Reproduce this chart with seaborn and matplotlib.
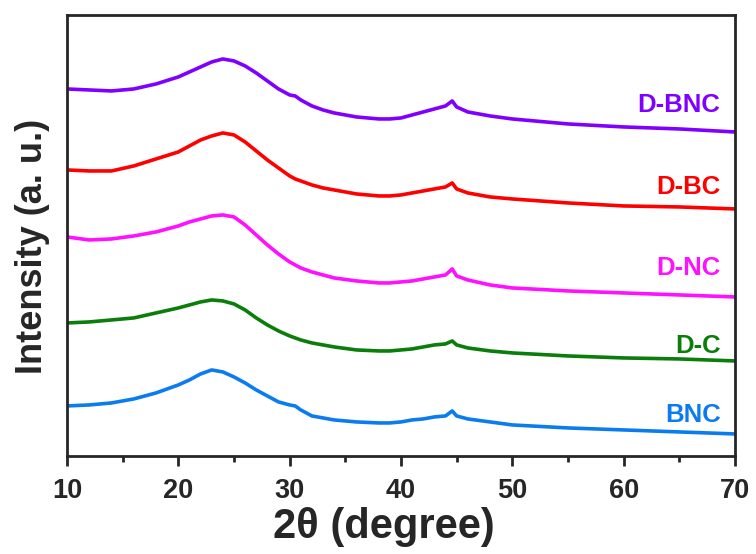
import numpy as np
import pandas as pd
import matplotlib
matplotlib.use("Agg")
import matplotlib.pyplot as plt
import seaborn as sns
from matplotlib.ticker import MultipleLocator

# 2-theta sampling (degree)
two_theta = [10, 12, 14, 16, 18, 20, 21, 22, 23, 24, 25, 26, 27, 28, 29, 30, 30.5,
             31, 32, 33, 34, 36, 38, 39, 40, 41, 42, 43, 44, 44.6, 45, 46, 48, 50,
             55, 60, 65, 70]

# intensities (a. u.)
bnc = [50, 51, 53, 57, 63, 71, 76, 82, 86, 84, 79, 73, 66, 60, 54, 51, 50,
       46, 40, 38, 36, 34, 33, 33, 34, 36, 37, 39, 40, 45, 40, 37, 34, 31,
       28, 26, 24, 22]
d_c = [58, 59, 61, 63, 68, 73, 76, 79, 81, 80, 77, 71, 63, 56, 50, 45, 43,
       41, 38, 36, 34, 31, 30, 30, 31, 32, 34, 36, 37, 40, 36, 33, 30, 28,
       25, 23, 22, 20]
d_nc = [79, 76, 77, 80, 84, 90, 94, 97, 100, 101, 99, 91, 81, 71, 62, 54, 51,
        48, 44, 41, 38, 35, 33, 33, 34, 35, 37, 39, 41, 47, 40, 36, 31, 28,
        25, 23, 21, 19]
d_bc = [61, 60, 60, 65, 72, 79, 85, 91, 95, 98, 96, 89, 80, 71, 63, 55, 52,
        50, 46, 43, 41, 37, 35, 35, 36, 38, 40, 42, 44, 48, 42, 38, 34, 32,
        28, 25, 24, 22]
d_bnc = [64, 63, 62, 64, 69, 76, 81, 86, 91, 94, 92, 87, 80, 72, 64, 58, 57,
         53, 47, 43, 40, 36, 34, 34, 35, 38, 41, 44, 47, 52, 46, 41, 37, 34,
         29, 26, 24, 21]

samples = ["BNC", "D-C", "D-NC", "D-BC", "D-BNC"]
series = [bnc, d_c, d_nc, d_bc, d_bnc]
offsets = [0, 75, 140, 225, 303]
colors = ["#0a7cf0", "#0a7d0a", "#ff10ff", "#ff0000", "#8000ff"]
palette = dict(zip(samples, colors))

frames = []
for name, vals, off in zip(samples, series, offsets):
    frames.append(pd.DataFrame({"two_theta": two_theta,
                                "intensity": np.array(vals) + off,
                                "sample": name}))
df = pd.concat(frames, ignore_index=True)

sns.set_style("ticks")
plt.rcParams["font.family"] = ["Liberation Sans", "DejaVu Sans"]
plt.rcParams["font.weight"] = "bold"

fig = plt.figure(figsize=(7.56, 5.54), dpi=100)
ax = fig.add_axes([0.0886, 0.177, 0.8836, 0.796])

sns.lineplot(data=df, x="two_theta", y="intensity", hue="sample",
             palette=palette, linewidth=2.6, legend=False, ax=ax,
             sort=False, estimator=None)
for ln in ax.lines:
    ln.set_solid_joinstyle("round")
    ln.set_solid_capstyle("round")

ax.set_xlim(10, 70)
ax.set_ylim(0, 441)
ax.xaxis.set_major_locator(MultipleLocator(10))
ax.xaxis.set_minor_locator(MultipleLocator(5))
ax.set_yticks([])
ax.tick_params(axis="x", which="major", direction="out", length=7, width=2,
               labelsize=19.5, pad=9)
ax.tick_params(axis="x", which="minor", direction="out", length=4, width=2)
for lab in ax.get_xticklabels():
    lab.set_fontweight("bold")
for sp in ax.spines.values():
    sp.set_linewidth(2)
    sp.set_visible(True)

ax.set_xlabel("2θ (degree)", fontsize=30, fontweight="bold")
ax.xaxis.set_label_coords(0.475, -0.115, transform=ax.transAxes)
ax.xaxis.label.set_va("top")
ax.set_ylabel("Intensity (a. u.)", fontsize=26, fontweight="bold")
ax.yaxis.set_label_coords(-0.025, 0.474, transform=ax.transAxes)

label_y = [41, 110, 188, 269, 351]
for name, yv in zip(samples, label_y):
    ax.text(68.7, yv, name, color=palette[name], fontsize=18.5,
            fontweight="bold", ha="right", va="center")

fig.savefig("out.png", dpi=100)
